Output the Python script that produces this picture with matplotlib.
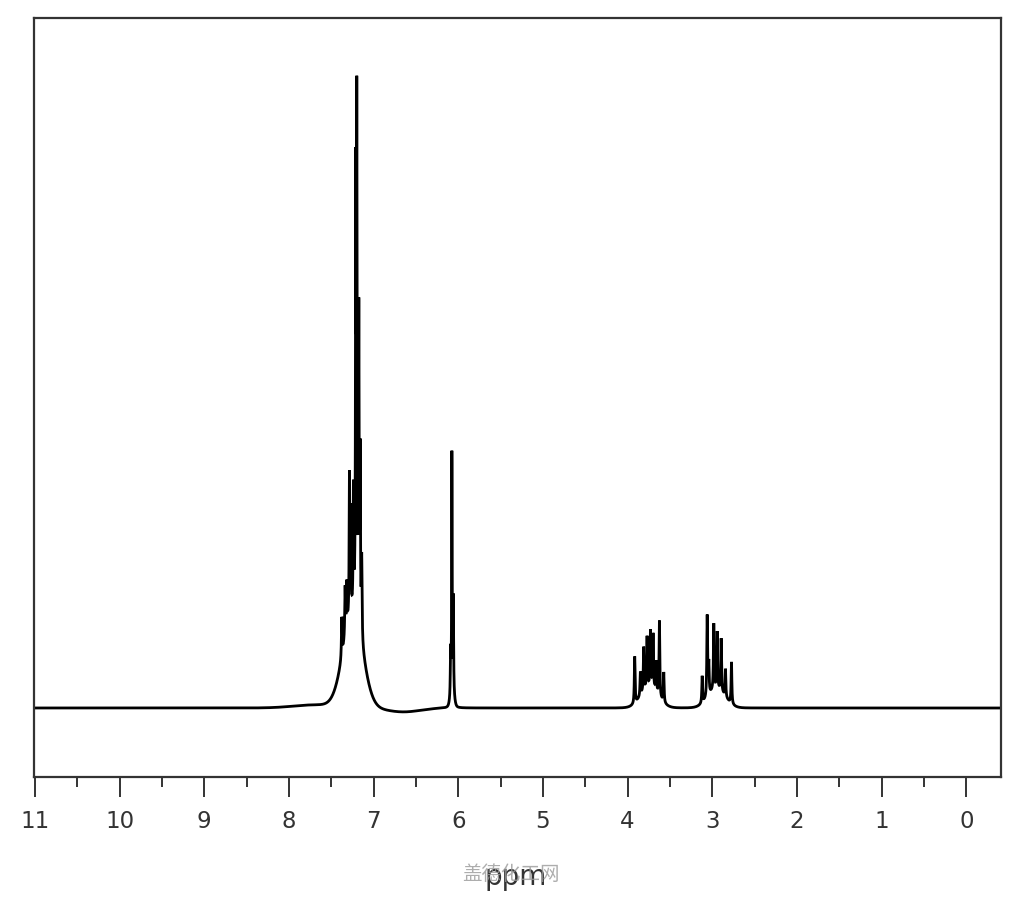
import numpy as np
import matplotlib
matplotlib.use("Agg")
import matplotlib.pyplot as plt

# ---- data: sharp lines (ppm, height, Lorentzian half-width in ppm) ----
aromatic_ppm = [7.198, 7.210, 7.174, 7.158, 7.140, 7.238, 7.270, 7.285, 7.316, 7.336, 7.375]
aromatic_h   = [495, 416, 305, 170, 80, 120, 100, 140, 45, 50, 40]
aromatic_w   = [0.004, 0.004, 0.004, 0.004, 0.005, 0.004, 0.004, 0.004, 0.005, 0.005, 0.005]

singlet_ppm = [6.075, 6.058, 6.090]
singlet_h   = [236, 95, 45]
singlet_w   = [0.003, 0.004, 0.004]

mult1_ppm = [3.916, 3.849, 3.810, 3.770, 3.730, 3.699, 3.663, 3.624, 3.573]
mult1_h   = [47, 24, 44, 51, 56, 54, 30, 76, 30]
mult1_w   = [0.005] * 9

mult2_ppm = [3.119, 3.060, 3.041, 2.982, 2.942, 2.895, 2.844, 2.773]
mult2_h   = [27, 81, 31, 66, 57, 53, 28, 42]
mult2_w   = [0.005] * 8

# ---- data: broad humps under the multiplets and baseline drift (ppm, height, Gaussian sigma) ----
broad_ppm = [7.245, 6.07, 3.74, 2.95, 6.65, 7.70]
broad_h   = [90, 14, 20, 18, -4, 3]
broad_s   = [0.115, 0.02, 0.10, 0.10, 0.20, 0.25]

major_ticks = [11, 10, 9, 8, 7, 6, 5, 4, 3, 2, 1, 0]
minor_ticks = [10.5, 9.5, 8.5, 7.5, 6.5, 5.5, 4.5, 3.5, 2.5, 1.5, 0.5]
x_label = "ppm"
watermark = "盖德化工网"


def lorentz_sum(x, pos, h, w):
    y = np.zeros_like(x)
    for p, a, ww in zip(pos, h, w):
        y += a * ww**2 / ((x - p) ** 2 + ww**2)
    return y


def gauss_sum(x, pos, h, s):
    y = np.zeros_like(x)
    for p, a, ss in zip(pos, h, s):
        y += a * np.exp(-0.5 * ((x - p) / ss) ** 2)
    return y


x = np.linspace(11.5, -0.6, 60000)
y = (lorentz_sum(x, aromatic_ppm, aromatic_h, aromatic_w)
     + lorentz_sum(x, singlet_ppm, singlet_h, singlet_w)
     + lorentz_sum(x, mult1_ppm, mult1_h, mult1_w)
     + lorentz_sum(x, mult2_ppm, mult2_h, mult2_w)
     + gauss_sum(x, broad_ppm, broad_h, broad_s))

fig = plt.figure(figsize=(10.24, 9.0), dpi=100)
ax = fig.add_axes([34 / 1024, 1 - 777 / 900, (1001 - 34) / 1024, (777 - 18) / 900])

ax.plot(x, y, color="black", lw=2.0, solid_joinstyle="miter")

ax.set_xlim(11.01, -0.41)
ax.set_ylim(-69, 690)

ax.set_xticks(major_ticks)
ax.set_xticklabels([str(t) for t in major_ticks])
ax.set_xticks(minor_ticks, minor=True)
ax.set_yticks([])

ax.tick_params(axis="x", which="major", direction="out", length=14.5, width=1.4,
               color="#333333", labelsize=16.5, labelcolor="#333333", pad=9)
ax.tick_params(axis="x", which="minor", direction="out", length=7.5, width=1.4,
               color="#333333")

for s in ax.spines.values():
    s.set_color("#333333")
    s.set_linewidth(1.6)

fig.text(516 / 1024, 1 - 877 / 900, x_label, ha="center", va="center",
         fontsize=20, color="#333333", family="DejaVu Sans")
fig.text(511 / 1024, 1 - 875 / 900, watermark, ha="center", va="center",
         fontsize=14, color="#999999", alpha=0.8,
         family=["Noto Sans CJK SC", "DejaVu Sans"])

fig.savefig("out.png", dpi=100)
